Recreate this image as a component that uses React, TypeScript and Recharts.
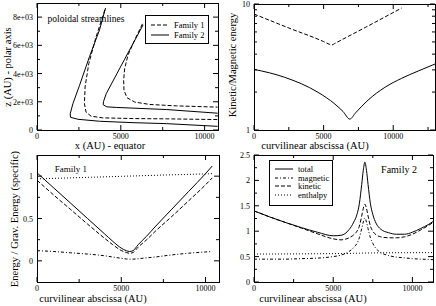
import { Legend, Line, LineChart, XAxis, YAxis } from 'recharts';

const FONT = '"Liberation Serif", "Times New Roman", Times, serif';

// top left: poloidal streamlines, x and z in AU
const fam1InnerX = [6290, 5830, 5430, 5230, 5170, 5190, 5370, 5830, 6730, 8320, 10780];
const fam1InnerZ = [7520, 6380, 5310, 4360, 3520, 2810, 2290, 1980, 1810, 1710, 1620];
const fam1OuterX = [4050, 3530, 3090, 2870, 2830, 2930, 3230, 3930, 5730, 7730, 10780];
const fam1OuterZ = [8520, 6620, 4710, 3050, 1860, 1260, 980, 860, 810, 790, 740];
const fam2InnerX = [6330, 5230, 4130, 3970, 3950, 4170, 4730, 5730, 7730, 10780];
const fam2InnerZ = [7450, 5020, 2570, 2020, 1790, 1640, 1600, 1550, 1450, 1190];
const fam2OuterX = [4090, 3730, 3130, 2540, 2140, 1980, 2000, 2440, 3730, 5730, 7730, 10780];
const fam2OuterZ = [8640, 7090, 5190, 3170, 1860, 1140, 900, 760, 620, 520, 450, 260];

// top right: kinetic / magnetic energy ratio
const ratio1S = [0, 2500, 5000, 5400, 5600, 5800, 8000, 10600];
const ratio1V = [8.33, 6.45, 5.03, 4.8, 4.73, 4.86, 6.52, 9.29];
const ratio2S = [0, 2200, 4600, 5800, 6400, 6880, 7300, 8200, 9400, 10600, 11800, 13000];
const ratio2V = [3.03, 2.62, 1.99, 1.61, 1.4, 1.22, 1.37, 1.73, 2.18, 2.57, 2.94, 3.34];

// bottom left: family 1 energies
const fam1S = [0, 1000, 2000, 3000, 4000, 4500, 5000, 5300, 5500, 5700, 6000, 6500, 7000, 8000, 9000, 10000, 10400];
const fam1Total = [1.04, 0.86, 0.68, 0.5, 0.32, 0.23, 0.15, 0.12, 0.11, 0.12, 0.19, 0.29, 0.4, 0.61, 0.82, 1.03, 1.12];
const fam1Kinetic = [0.952, 0.776, 0.605, 0.434, 0.268, 0.19, 0.122, 0.098, 0.089, 0.098, 0.161, 0.248, 0.345, 0.524, 0.709, 0.898, 0.98];
const fam1Magnetic = [0.12, 0.11, 0.095, 0.08, 0.06, 0.045, 0.03, 0.022, 0.02, 0.02, 0.025, 0.035, 0.045, 0.07, 0.09, 0.105, 0.11];
const fam1Enthalpy = [0.968, 0.974, 0.98, 0.986, 0.992, 0.995, 0.998, 1.0, 1.001, 1.002, 1.004, 1.007, 1.01, 1.016, 1.021, 1.027, 1.03];

// bottom right: family 2 energies
const fam2S = [0, 1000, 2000, 3000, 4000, 5000, 5500, 6000, 6300, 6500, 6650, 6800, 6900, 7000, 7100, 7200, 7350, 7500, 7700, 8000, 8500, 9000, 9500, 10000, 10500, 11000, 11300];
const fam2Total = [1.4, 1.28, 1.17, 1.07, 0.98, 0.91, 0.92, 1.03, 1.18, 1.33, 1.54, 1.92, 2.2, 2.36, 2.2, 1.92, 1.54, 1.33, 1.16, 1.04, 0.97, 0.94, 0.94, 0.98, 1.05, 1.13, 1.19];
const fam2Magnetic = [0.45, 0.45, 0.45, 0.46, 0.47, 0.5, 0.53, 0.6, 0.68, 0.76, 0.87, 1.05, 1.18, 1.26, 1.18, 1.05, 0.87, 0.76, 0.66, 0.58, 0.52, 0.49, 0.475, 0.46, 0.45, 0.445, 0.44];
const fam2Kinetic = [1.4, 1.28, 1.17, 1.06, 0.95, 0.85, 0.83, 0.87, 0.93, 1.0, 1.1, 1.3, 1.45, 1.53, 1.45, 1.3, 1.1, 1.0, 0.93, 0.89, 0.87, 0.87, 0.89, 0.94, 1.02, 1.11, 1.17];
const fam2Enthalpy = [0.55, 0.551, 0.552, 0.554, 0.556, 0.559, 0.561, 0.563, 0.565, 0.566, 0.567, 0.568, 0.569, 0.57, 0.571, 0.571, 0.572, 0.572, 0.573, 0.574, 0.575, 0.576, 0.577, 0.577, 0.578, 0.579, 0.58];

// ticks
const sTicks = [0, 2500, 5000, 7500, 10000];
const sTicksLong = [0, 2500, 5000, 7500, 10000, 12500];
const sMajors = [0, 5000, 10000];
const zTicks = [0, 1000, 2000, 3000, 4000, 5000, 6000, 7000, 8000];
const zMajors = [0, 2000, 4000, 6000, 8000];
const ratioTicks = [1, 2, 3, 4, 5, 6, 7, 8, 9, 10];
const ratioMajors = [1, 10];
const e1Ticks = [0, 0.25, 0.5, 0.75, 1];
const e1Majors = [0, 0.5, 1];
const e2Ticks = [0, 0.25, 0.5, 0.75, 1, 1.25, 1.5, 1.75, 2, 2.25, 2.5];
const e2Majors = [0, 0.5, 1, 1.5, 2, 2.5];

const DASH = '4 2';
const DOT = '1 2';
const DASHDOT = '3 2 1 2';

const pairs = (xs: number[], ys: number[]) => xs.map((x, i) => ({ x, y: ys[i] }));

const fam1Rows = fam1S.map((s, i) => ({
  s,
  total: fam1Total[i],
  kinetic: fam1Kinetic[i],
  magnetic: fam1Magnetic[i],
  enthalpy: fam1Enthalpy[i],
}));
const fam2Rows = fam2S.map((s, i) => ({
  s,
  total: fam2Total[i],
  kinetic: fam2Kinetic[i],
  magnetic: fam2Magnetic[i],
  enthalpy: fam2Enthalpy[i],
}));

type Tk = { x?: number; y?: number; payload?: { value: number } };
type TkOpts = { span: number; majors: number[]; fmt?: (v: number) => string };

// ticks point inwards on all four sides, labels only on majors
const XTick = ({ x = 0, y = 0, payload, span, majors, fmt = String }: Tk & TkOpts) => {
  const v = payload?.value ?? 0;
  const major = majors.includes(v);
  const len = major ? 5 : 3;
  return (
    <g>
      <line x1={x} y1={y} x2={x} y2={y - len} stroke="#000" />
      <line x1={x} y1={y - span} x2={x} y2={y - span + len} stroke="#000" />
      {major && (
        <text x={x} y={y + 9.3} textAnchor="middle" fontSize={8} fontFamily={FONT} fill="#000">
          {fmt(v)}
        </text>
      )}
    </g>
  );
};

const YTick = ({ x = 0, y = 0, payload, span, majors, fmt = String }: Tk & TkOpts) => {
  const v = payload?.value ?? 0;
  const major = majors.includes(v);
  const len = major ? 5 : 3;
  return (
    <g>
      <line x1={x} y1={y} x2={x + len} y2={y} stroke="#000" />
      <line x1={x + span} y1={y} x2={x + span - len} y2={y} stroke="#000" />
      {major && (
        <text x={x - 4} y={y + 3} textAnchor="end" fontSize={8} fontFamily={FONT} fill="#000">
          {fmt(v)}
        </text>
      )}
    </g>
  );
};

type Item = { label: string; dash?: string };
const LegendBox = ({ items, rowH, padTop, height }: { items: Item[]; rowH: number; padTop: number; height: number }) => (
  <div
    style={{
      boxSizing: 'border-box',
      width: 64,
      height,
      border: '1px solid #000',
      background: '#fff',
      paddingTop: padTop,
      paddingLeft: 5,
      fontFamily: FONT,
      fontSize: 8.5,
      color: '#000',
    }}
  >
    {items.map((it) => (
      <div key={it.label} style={{ display: 'flex', alignItems: 'center', height: rowH, whiteSpace: 'nowrap' }}>
        <svg width={18} height={4} style={{ marginRight: 5, flex: 'none' }}>
          <line x1={0} y1={2} x2={18} y2={2} stroke="#000" strokeDasharray={it.dash} />
        </svg>
        <span>{it.label}</span>
      </div>
    ))}
  </div>
);

const Frame = ({ left, top, width, height }: { left: number; top: number; width: number; height: number }) => (
  <div
    style={{
      position: 'absolute',
      left,
      top,
      width: width + 1,
      height: height + 1,
      boxSizing: 'border-box',
      border: '1px solid #000',
      pointerEvents: 'none',
    }}
  />
);

const Txt = ({ x, y, size, children, rotate }: { x: number; y: number; size: number; children: string; rotate?: boolean }) => (
  <div
    style={{
      position: 'absolute',
      left: x,
      top: y,
      transform: `translate(-50%, -50%)${rotate ? ' rotate(-90deg)' : ''}`,
      fontFamily: FONT,
      fontSize: size,
      lineHeight: 1,
      whiteSpace: 'nowrap',
      color: '#000',
    }}
  >
    {children}
  </div>
);

const expFmt = (v: number) => (v === 0 ? '0' : `${v / 1000}e+03`);

const App = () => (
  <div style={{ position: 'absolute', left: 0, top: 0, width: 436, height: 306, background: '#fff', overflow: 'hidden' }}>
    {/* top left */}
    <div style={{ position: 'absolute', left: 0, top: 0 }}>
      <LineChart width={220} height={153} margin={{ top: 3, left: 36, right: 2, bottom: 22 }}>
        <XAxis
          dataKey="x"
          type="number"
          domain={[0, 10800]}
          ticks={sTicks}
          interval={0}
          height={1}
          tickSize={0}
          tickMargin={0}
          axisLine={false}
          tickLine={false}
          allowDataOverflow
          tick={(p: Tk) => <XTick {...p} span={127} majors={sMajors} />}
        />
        <YAxis
          dataKey="y"
          type="number"
          domain={[0, 9000]}
          ticks={zTicks}
          interval={0}
          width={1}
          tickSize={0}
          tickMargin={0}
          axisLine={false}
          tickLine={false}
          allowDataOverflow
          tick={(p: Tk) => <YTick {...p} span={181} majors={zMajors} fmt={expFmt} />}
        />
        <Line data={pairs(fam1InnerX, fam1InnerZ)} dataKey="y" name="Family 1" stroke="#000" strokeDasharray={DASH} dot={false} isAnimationActive={false} />
        <Line data={pairs(fam1OuterX, fam1OuterZ)} dataKey="y" name="Family 1" stroke="#000" strokeDasharray={DASH} dot={false} isAnimationActive={false} />
        <Line data={pairs(fam2InnerX, fam2InnerZ)} dataKey="y" name="Family 2" stroke="#000" dot={false} isAnimationActive={false} />
        <Line data={pairs(fam2OuterX, fam2OuterZ)} dataKey="y" name="Family 2" stroke="#000" dot={false} isAnimationActive={false} />
        <Legend
          layout="vertical"
          align="center"
          verticalAlign="middle"
          wrapperStyle={{ left: 145, top: 15, width: 'auto', height: 'auto' }}
          content={() => (
            <LegendBox
              items={[
                { label: 'Family 1', dash: DASH },
                { label: 'Family 2' },
              ]}
              rowH={10}
              padTop={3.7}
              height={29}
            />
          )}
        />
      </LineChart>
    </div>

    {/* top right */}
    <div style={{ position: 'absolute', left: 218, top: 0 }}>
      <LineChart width={218} height={153} margin={{ top: 4, left: 35, right: 1, bottom: 22 }}>
        <XAxis
          dataKey="x"
          type="number"
          domain={[0, 13000]}
          ticks={sTicksLong}
          interval={0}
          height={1}
          tickSize={0}
          tickMargin={0}
          axisLine={false}
          tickLine={false}
          allowDataOverflow
          tick={(p: Tk) => <XTick {...p} span={126} majors={sMajors} />}
        />
        <YAxis
          dataKey="y"
          type="number"
          scale="log"
          domain={[1, 10]}
          ticks={ratioTicks}
          interval={0}
          width={1}
          tickSize={0}
          tickMargin={0}
          axisLine={false}
          tickLine={false}
          allowDataOverflow
          tick={(p: Tk) => <YTick {...p} span={181} majors={ratioMajors} />}
        />
        <Line data={pairs(ratio1S, ratio1V)} dataKey="y" type="monotone" stroke="#000" strokeDasharray={DASH} dot={false} isAnimationActive={false} />
        <Line data={pairs(ratio2S, ratio2V)} dataKey="y" type="monotone" stroke="#000" dot={false} isAnimationActive={false} />
      </LineChart>
    </div>

    {/* bottom left */}
    <div style={{ position: 'absolute', left: 0, top: 150 }}>
      <LineChart width={220} height={156} data={fam1Rows} margin={{ top: 5, left: 36, right: 1, bottom: 23 }}>
        <XAxis
          dataKey="s"
          type="number"
          domain={[0, 10800]}
          ticks={sTicks}
          interval={0}
          height={1}
          tickSize={0}
          tickMargin={0}
          axisLine={false}
          tickLine={false}
          allowDataOverflow
          tick={(p: Tk) => <XTick {...p} span={127} majors={sMajors} />}
        />
        <YAxis
          type="number"
          domain={[-0.25, 1.25]}
          ticks={e1Ticks}
          interval={0}
          width={1}
          tickSize={0}
          tickMargin={0}
          axisLine={false}
          tickLine={false}
          allowDataOverflow
          tick={(p: Tk) => <YTick {...p} span={182} majors={e1Majors} />}
        />
        <Line dataKey="total" type="monotone" stroke="#000" dot={false} isAnimationActive={false} />
        <Line dataKey="magnetic" type="monotone" stroke="#000" strokeDasharray={DASHDOT} dot={false} isAnimationActive={false} />
        <Line dataKey="kinetic" type="monotone" stroke="#000" strokeDasharray={DASH} dot={false} isAnimationActive={false} />
        <Line dataKey="enthalpy" type="monotone" stroke="#000" strokeDasharray={DOT} dot={false} isAnimationActive={false} />
      </LineChart>
    </div>

    {/* bottom right */}
    <div style={{ position: 'absolute', left: 218, top: 150 }}>
      <LineChart width={218} height={156} data={fam2Rows} margin={{ top: 5, left: 35, right: 3, bottom: 23 }}>
        <XAxis
          dataKey="s"
          type="number"
          domain={[0, 11300]}
          ticks={sTicks}
          interval={0}
          height={1}
          tickSize={0}
          tickMargin={0}
          axisLine={false}
          tickLine={false}
          allowDataOverflow
          tick={(p: Tk) => <XTick {...p} span={127} majors={sMajors} />}
        />
        <YAxis
          type="number"
          domain={[0, 2.5]}
          ticks={e2Ticks}
          interval={0}
          width={1}
          tickSize={0}
          tickMargin={0}
          axisLine={false}
          tickLine={false}
          allowDataOverflow
          tick={(p: Tk) => <YTick {...p} span={179} majors={e2Majors} />}
        />
        <Line dataKey="total" type="monotone" stroke="#000" dot={false} isAnimationActive={false} />
        <Line dataKey="magnetic" type="monotone" stroke="#000" strokeDasharray={DASHDOT} dot={false} isAnimationActive={false} />
        <Line dataKey="kinetic" type="monotone" stroke="#000" strokeDasharray={DASH} dot={false} isAnimationActive={false} />
        <Line dataKey="enthalpy" type="monotone" stroke="#000" strokeDasharray={DOT} dot={false} isAnimationActive={false} />
        <Legend
          layout="vertical"
          align="center"
          verticalAlign="middle"
          wrapperStyle={{ left: 51, top: 10, width: 'auto', height: 'auto' }}
          content={() => (
            <LegendBox
              items={[
                { label: 'total' },
                { label: 'magnetic', dash: DASHDOT },
                { label: 'kinetic', dash: DASH },
                { label: 'enthalpy', dash: DOT },
              ]}
              rowH={8.7}
              padTop={3.5}
              height={46}
            />
          )}
        />
      </LineChart>
    </div>

    <Frame left={37} top={3} width={181} height={127} />
    <Frame left={254} top={4} width={181} height={126} />
    <Frame left={37} top={155} width={182} height={127} />
    <Frame left={254} top={155} width={179} height={127} />

    <Txt x={86} y={20} size={9.5}>poloidal streamlines</Txt>
    <Txt x={71} y={168.5} size={9}>Family 1</Txt>
    <Txt x={399} y={169.5} size={10}>Family 2</Txt>

    <Txt x={110} y={146.3} size={10.5}>x (AU) - equator</Txt>
    <Txt x={315} y={146.3} size={10.5}>curvilinear abscissa (AU)</Txt>
    <Txt x={93} y={299} size={10.5}>curvilinear abscissa (AU)</Txt>
    <Txt x={313} y={299} size={10.5}>curvilinear abscissa (AU)</Txt>

    <Txt x={7.5} y={67} size={10.5} rotate>z (AU) - polar axis</Txt>
    <Txt x={233} y={65} size={10.5} rotate>Kinetic/Magnetic energy</Txt>
    <Txt x={15} y={218.5} size={10.5} rotate>Energy / Grav. Energy (specific)</Txt>
  </div>
);

export default App;
